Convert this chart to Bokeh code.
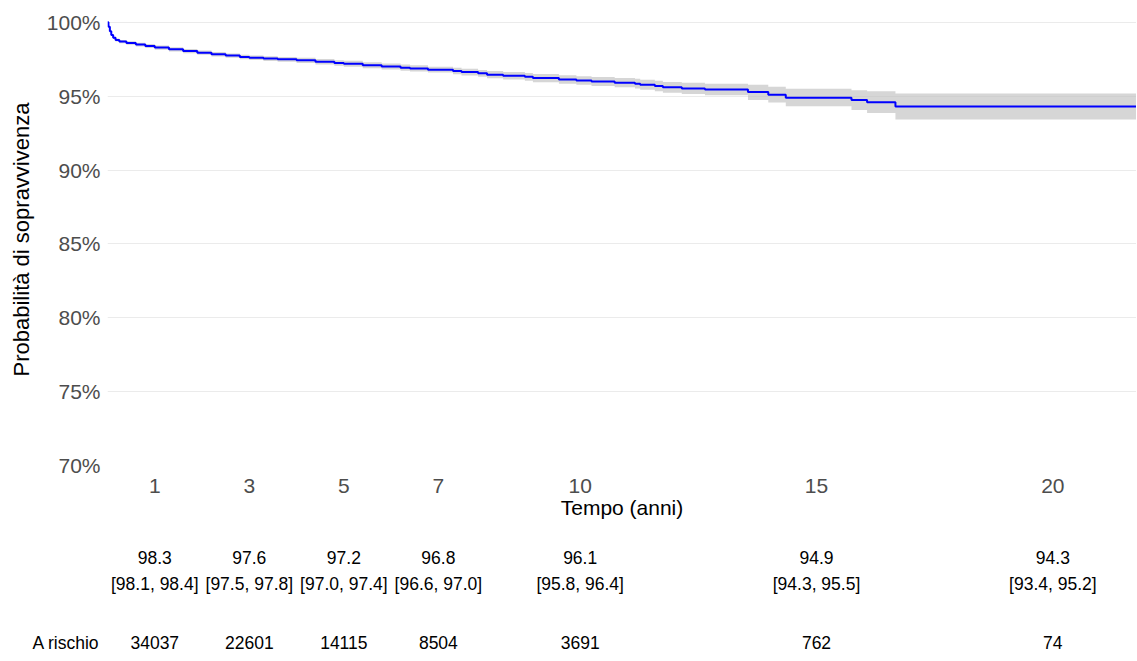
from bokeh.plotting import figure
from bokeh.layouts import column
from bokeh.models import Range1d, FixedTicker, PrintfTickFormatter, ColumnDataSource
from bokeh.core.properties import value
from bokeh.embed import file_html
from bokeh.resources import INLINE

# ---- Kaplan-Meier estimate ----
time = [0, 0.02, 0.05, 0.08, 0.12, 0.17, 0.25, 0.4, 0.6, 0.8, 1.0, 1.3, 1.6, 1.9, 2.2, 2.5,
        2.8, 3.0, 3.3, 3.6, 4.0, 4.4, 4.8, 5.0, 5.4, 5.8, 6.2, 6.4, 6.78, 7.31, 7.49, 7.84,
        8.03, 8.37, 8.83, 9.0, 9.55, 9.92, 10.24, 10.73, 11.16, 11.27, 11.58, 11.75, 12.15,
        12.64, 13.55, 13.98, 14.35, 15.74, 16.07, 16.67, 22.0]
surv = [100, 99.7, 99.4, 99.15, 98.95, 98.8, 98.7, 98.6, 98.5, 98.4, 98.3, 98.18, 98.06,
        97.95, 97.84, 97.75, 97.66, 97.6, 97.55, 97.5, 97.43, 97.34, 97.25, 97.2, 97.1,
        97.02, 96.93, 96.88, 96.8, 96.7, 96.64, 96.55, 96.46, 96.39, 96.32, 96.23, 96.14,
        96.07, 96.0, 95.92, 95.85, 95.78, 95.69, 95.6, 95.53, 95.46, 95.28, 95.1, 94.9,
        94.74, 94.6, 94.31, 94.31]
lower = [100, 99.66, 99.34, 99.08, 98.87, 98.7, 98.59, 98.48, 98.37, 98.26, 98.15, 98.03,
         97.91, 97.8, 97.69, 97.6, 97.51, 97.45, 97.39, 97.33, 97.25, 97.15, 97.06, 97.0,
         96.9, 96.81, 96.72, 96.67, 96.6, 96.48, 96.41, 96.31, 96.21, 96.13, 96.05, 95.95,
         95.85, 95.78, 95.69, 95.6, 95.52, 95.44, 95.34, 95.24, 95.15, 95.07, 94.75, 94.58,
         94.32, 94.07, 93.86, 93.43, 93.43]
upper = [100, 99.74, 99.46, 99.22, 99.03, 98.9, 98.81, 98.72, 98.62, 98.53, 98.43, 98.32,
         98.2, 98.1, 97.99, 97.9, 97.81, 97.75, 97.71, 97.66, 97.6, 97.52, 97.44, 97.4,
         97.3, 97.22, 97.14, 97.09, 97.0, 96.92, 96.86, 96.78, 96.7, 96.64, 96.58, 96.5,
         96.42, 96.36, 96.3, 96.24, 96.18, 96.12, 96.04, 95.96, 95.91, 95.85, 95.78, 95.64,
         95.5, 95.41, 95.33, 95.19, 95.19]

# ---- table below the plot ----
tab_times = [1, 3, 5, 7, 10, 15, 20]
tab_est = [98.3, 97.6, 97.2, 96.8, 96.1, 94.9, 94.3]
tab_low = [98.1, 97.5, 97.0, 96.6, 95.8, 94.3, 93.4]
tab_up = [98.4, 97.8, 97.4, 97.0, 96.4, 95.5, 95.2]
at_risk = [34037, 22601, 14115, 8504, 3691, 762, 74]
at_risk_label = "A rischio"

y_ticks = [70, 75, 80, 85, 90, 95, 100]

FONT = "Liberation Sans"
X_END = 21.77
FRAME_W = 1029
FRAME_H = 452
LEFT = 107
TOP = 13
BOTTOM = 57
WIDTH = LEFT + FRAME_W

src = ColumnDataSource(dict(time=time, surv=surv, lower=lower, upper=upper))

p = figure(width=WIDTH, height=TOP + FRAME_H + BOTTOM,
           min_border_left=LEFT, min_border_right=0, min_border_top=TOP, min_border_bottom=BOTTOM,
           x_range=Range1d(0, X_END), y_range=Range1d(70, 100.6),
           output_backend="svg", toolbar_location=None)
p.outline_line_color = None
p.background_fill_color = "white"
p.border_fill_color = "white"

p.varea_step(x="time", y1="lower", y2="upper", step_mode="after", source=src,
             fill_color="#c0c0c0", fill_alpha=0.65)
p.step(x="time", y="surv", mode="after", source=src, line_color="#0000ff", line_width=2)

p.xgrid.visible = False
p.ygrid.grid_line_color = "#ebebeb"
p.ygrid.grid_line_width = 1
p.ygrid.ticker = FixedTicker(ticks=y_ticks)

for ax in (p.xaxis[0], p.yaxis[0]):
    ax.axis_line_color = None
    ax.major_tick_line_color = None
    ax.minor_tick_line_color = None
    ax.major_tick_out = 0
    ax.major_tick_in = 0
    ax.major_label_text_font = FONT
    ax.major_label_text_font_size = "21px"
    ax.major_label_text_color = "#4d4d4d"
    ax.axis_label_text_font = FONT
    ax.axis_label_text_font_style = "normal"
    ax.axis_label_text_color = "black"

p.yaxis.ticker = FixedTicker(ticks=y_ticks)
p.yaxis.formatter = PrintfTickFormatter(format="%d%%")
p.yaxis.axis_label = "Probabilità di sopravvivenza"
p.yaxis.axis_label_text_font_size = "22px"
p.yaxis.major_label_standoff = 7
p.yaxis.axis_label_standoff = 10

p.xaxis.ticker = FixedTicker(ticks=tab_times)
p.xaxis.axis_label = "Tempo (anni)"
p.xaxis.axis_label_text_font_size = "21px"
p.xaxis.major_label_standoff = 13
p.xaxis.axis_label_standoff = 0

# ---- table figure (shares the x scale of the plot) ----
TAB_H = 136
ROW_EST, ROW_CI, ROW_RISK = 35, 61.5, 120
TXT = "17.5px"

t = figure(width=WIDTH, height=TAB_H, min_border_left=LEFT, min_border_right=0,
           min_border_top=0, min_border_bottom=0,
           x_range=p.x_range, y_range=Range1d(TAB_H, 0),
           x_axis_location=None, y_axis_location="left",
           output_backend="svg", toolbar_location=None)
t.outline_line_color = None
t.grid.visible = False

# row label "A rischio" as the left axis label of the at-risk row
ty = t.yaxis[0]
ty.ticker = FixedTicker(ticks=[ROW_RISK])
ty.major_label_overrides = {ROW_RISK: at_risk_label}
ty.axis_line_color = None
ty.major_tick_line_color = None
ty.minor_tick_line_color = None
ty.major_tick_out = 0
ty.major_tick_in = 0
ty.major_label_standoff = 8
ty.major_label_text_font = FONT
ty.major_label_text_font_size = TXT
ty.major_label_text_color = "black"

ci_txt = ["[%.1f, %.1f]" % (a, b) for a, b in zip(tab_low, tab_up)]
est_txt = ["%.1f" % v for v in tab_est]
risk_txt = [str(v) for v in at_risk]

common = dict(text_font=value(FONT), text_font_size=TXT, text_align="center",
              text_baseline="middle", text_color="black")
t.text(x=tab_times, y=[ROW_EST] * len(tab_times), text=est_txt, **common)
t.text(x=tab_times, y=[ROW_CI] * len(tab_times), text=ci_txt, **common)
t.text(x=tab_times, y=[ROW_RISK] * len(tab_times), text=risk_txt, **common)

layout = column(p, t, spacing=0)
open("out.html", "w").write(file_html(layout, INLINE))
